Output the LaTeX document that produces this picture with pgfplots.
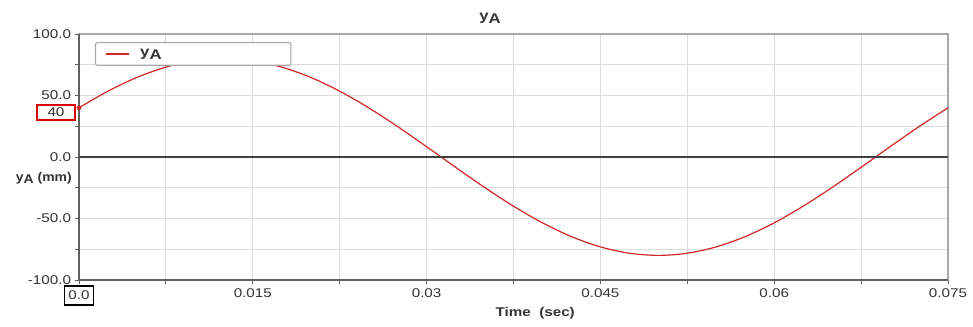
\documentclass[border=0pt]{standalone}
\usepackage{fontspec}
\setmainfont{Liberation Sans}[FakeStretch=1.2]
\usepackage{pgfplots}
\pgfplotsset{compat=1.18}
\definecolor{curvered}{HTML}{D02828}
\definecolor{gridc}{HTML}{DCDCDC}
\definecolor{txt}{HTML}{333333}
\definecolor{frameL}{HTML}{606060}
\definecolor{frameT}{HTML}{A8A8A8}
\begin{document}
\begin{tikzpicture}
\useasboundingbox (-59.25pt,-35.25pt) rectangle (670.5pt,210pt);
\begin{axis}[
  at={(0,0)}, anchor=south west,
  scale only axis, width=651.75pt, height=184.5pt,
  clip=false,
  xmin=0, xmax=0.075, ymin=-100, ymax=100,
  scaled x ticks=false, scaled y ticks=false,
  xtick={0,0.015,0.03,0.045,0.06,0.075},
  xticklabels={,0.015,0.03,0.045,0.06,0.075},
  ytick={-100,-50,0,50,100},
  yticklabels={-100.0,-50.0,0.0,50.0,100.0},
  minor x tick num=1, minor y tick num=1,
  grid=both,
  major grid style={gridc, line width=0.7pt},
  minor grid style={gridc, line width=0.7pt},
  axis line style={draw=frameT, line width=0.9pt},
  tick align=outside, xtick pos=bottom, ytick pos=left,
  major tick length=3pt, minor tick length=3pt,
  every tick/.style={frameL, line width=0.6pt},
  tick label style={font=\fontsize{9.5}{11}\selectfont, text=txt},
  yticklabel style={inner xsep=2.8pt},
  xticklabel style={inner ysep=3pt},
  legend style={draw=frameT, line width=0.8pt, rounded corners=1.5pt,
    at={(axis description cs:0.0184,0.9675)}, anchor=north west,
    inner xsep=7pt, inner ysep=3pt,
    font=\fontsize{10.5}{12}\selectfont\bfseries, text=txt},
  legend cell align=left,
  legend image code/.code={\draw[draw=curvered, line width=1pt] (0pt,0pt) -- (17.5pt,0pt);},
]
\addplot[curvered, line width=0.9pt, smooth] coordinates {
(0.0000,40.00) (0.0025,53.53) (0.0050,64.72) (0.0075,73.08) (0.0100,78.25)
(0.0125,80.00) (0.0150,78.25) (0.0175,73.08) (0.0200,64.72) (0.0225,53.53)
(0.0250,40.00) (0.0275,24.72) (0.0300,8.36) (0.0325,-8.36) (0.0350,-24.72)
(0.0375,-40.00) (0.0400,-53.53) (0.0425,-64.72) (0.0450,-73.08) (0.0475,-78.25)
(0.0500,-80.00) (0.0525,-78.25) (0.0550,-73.08) (0.0575,-64.72) (0.0600,-53.53)
(0.0625,-40.00) (0.0650,-24.72) (0.0675,-8.36) (0.0700,8.36) (0.0725,24.72)
(0.0750,40.00)
};
\addlegendentry{\hspace{6pt}\makebox[104pt][l]{y\raisebox{-0.4ex}{A}}}
\addplot[curvered, only marks, mark=*, mark size=1.6pt, forget plot] coordinates {(0,40)};
% frame: darker left and bottom, zero line
\draw[frameL, line width=0.9pt] (rel axis cs:0,1) -- (rel axis cs:0,0) -- (rel axis cs:1,0);
\draw[black!75, line width=0.8pt] (axis cs:0,0) -- (axis cs:0.075,0);
% annotations
\node[draw=red!85!black, line width=1pt, minimum width=28.5pt, minimum height=11.25pt, inner sep=0pt,
  font=\fontsize{9.5}{11}\selectfont, text=txt] at ([xshift=-17.25pt]axis cs:0,36.2) {40};
\node[draw=black, line width=1.1pt, minimum width=21.75pt, minimum height=14pt, inner sep=0pt,
  font=\fontsize{9.5}{11}\selectfont, text=txt] at ([yshift=-11.6pt]axis cs:0,-100) {0.0};
\node[anchor=base, font=\fontsize{10.5}{12}\selectfont\bfseries, text=txt]
  at ([yshift=9.75pt]rel axis cs:0.473,1) {y\raisebox{-0.4ex}{A}};
\node[anchor=east, inner sep=0pt, font=\fontsize{9.5}{11}\selectfont\bfseries, text=txt]
  at ([xshift=-5.25pt]axis cs:0,-17) {\addfontfeature{FakeStretch=1.1}y\raisebox{-0.4ex}{A} (mm)};
\node[font=\fontsize{9.5}{11}\selectfont\bfseries, text=txt]
  at ([yshift=-24.75pt]rel axis cs:0.525,0) {Time\ \ (sec)};
\end{axis}
\end{tikzpicture}
\end{document}
